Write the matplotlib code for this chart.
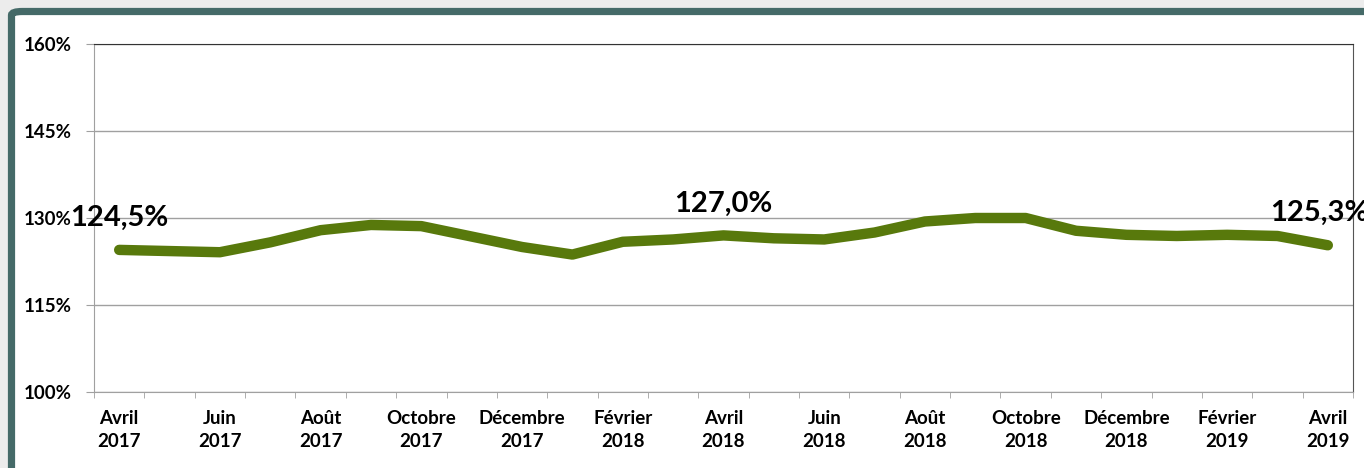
import matplotlib.pyplot as plt
from matplotlib.patches import FancyBboxPatch

# Monthly ratio, April 2017 -> April 2019
months = ["Avril\n2017", "Mai\n2017", "Juin\n2017", "Juillet\n2017", "Août\n2017",
          "Septembre\n2017", "Octobre\n2017", "Novembre\n2017", "Décembre\n2017",
          "Janvier\n2018", "Février\n2018", "Mars\n2018", "Avril\n2018", "Mai\n2018",
          "Juin\n2018", "Juillet\n2018", "Août\n2018", "Septembre\n2018",
          "Octobre\n2018", "Novembre\n2018", "Décembre\n2018", "Janvier\n2019",
          "Février\n2019", "Mars\n2019", "Avril\n2019"]
values = [124.5, 124.3, 124.1, 125.8, 127.9, 128.8, 128.6, 126.8, 125.0, 123.7,
          125.9, 126.3, 127.0, 126.5, 126.3, 127.5, 129.4, 130.0, 130.0, 127.8,
          127.1, 126.9, 127.1, 126.9, 125.3]
labelled = {0: "124,5%", 12: "127,0%", 24: "125,3%"}
yticks = [100, 115, 130, 145, 160]

plt.rcParams["font.family"] = ["Lato", "DejaVu Sans"]

fig = plt.figure(figsize=(13.64, 4.68), dpi=100)
fig.patch.set_facecolor("#ececec")

# dark frame around the chart
frame = FancyBboxPatch((11.5 / 1364, -0.05), 1.2, 1 - 11.5 / 468 + 0.05,
                       boxstyle="round,pad=0,rounding_size=0.008",
                       transform=fig.transFigure, facecolor="white",
                       edgecolor="#456a68", linewidth=5.2, zorder=-1)
fig.patches.append(frame)

ax = fig.add_axes([94 / 1364, 1 - 392 / 468, (1353 - 94) / 1364, (392 - 44) / 468])
ax.set_facecolor("none")

x = list(range(len(values)))
ax.plot(x, values, color="#58790c", linewidth=7.5, solid_capstyle="round",
        solid_joinstyle="round", zorder=3, clip_on=False)

for i, txt in labelled.items():
    dx = -6 if i == len(values) - 1 else 0
    ax.annotate(txt, (x[i], values[i]), xytext=(dx, 23), textcoords="offset points",
                ha="center", va="center", fontsize=21, fontweight="bold",
                color="black", zorder=5, annotation_clip=False)

ax.set_xlim(-0.5, len(values) - 0.5)
ax.set_ylim(100, 160)
ax.set_yticks(yticks)
ax.set_yticklabels([f"{v}%" for v in yticks], fontsize=13.5, fontweight="bold")
ax.yaxis.grid(True, color="#a0a0a0", linewidth=1)
ax.set_axisbelow(True)

ax.set_xticks([i for i in x[::2]])
ax.set_xticklabels(months[::2], fontsize=13.5, fontweight="bold", linespacing=1.45)
ax.set_xticks([i - 0.5 for i in range(len(values) + 1)], minor=True)
ax.tick_params(axis="x", which="major", length=0, pad=13)
ax.tick_params(axis="x", which="minor", length=4.5, color="#a0a0a0")
ax.tick_params(axis="y", length=6, color="#a0a0a0", pad=10)

for side in ["left", "bottom"]:
    ax.spines[side].set_color("#a0a0a0")
ax.spines["top"].set_color("#333333")
ax.spines["right"].set_color("#555555")

fig.savefig("out.png", dpi=100, facecolor=fig.get_facecolor())
